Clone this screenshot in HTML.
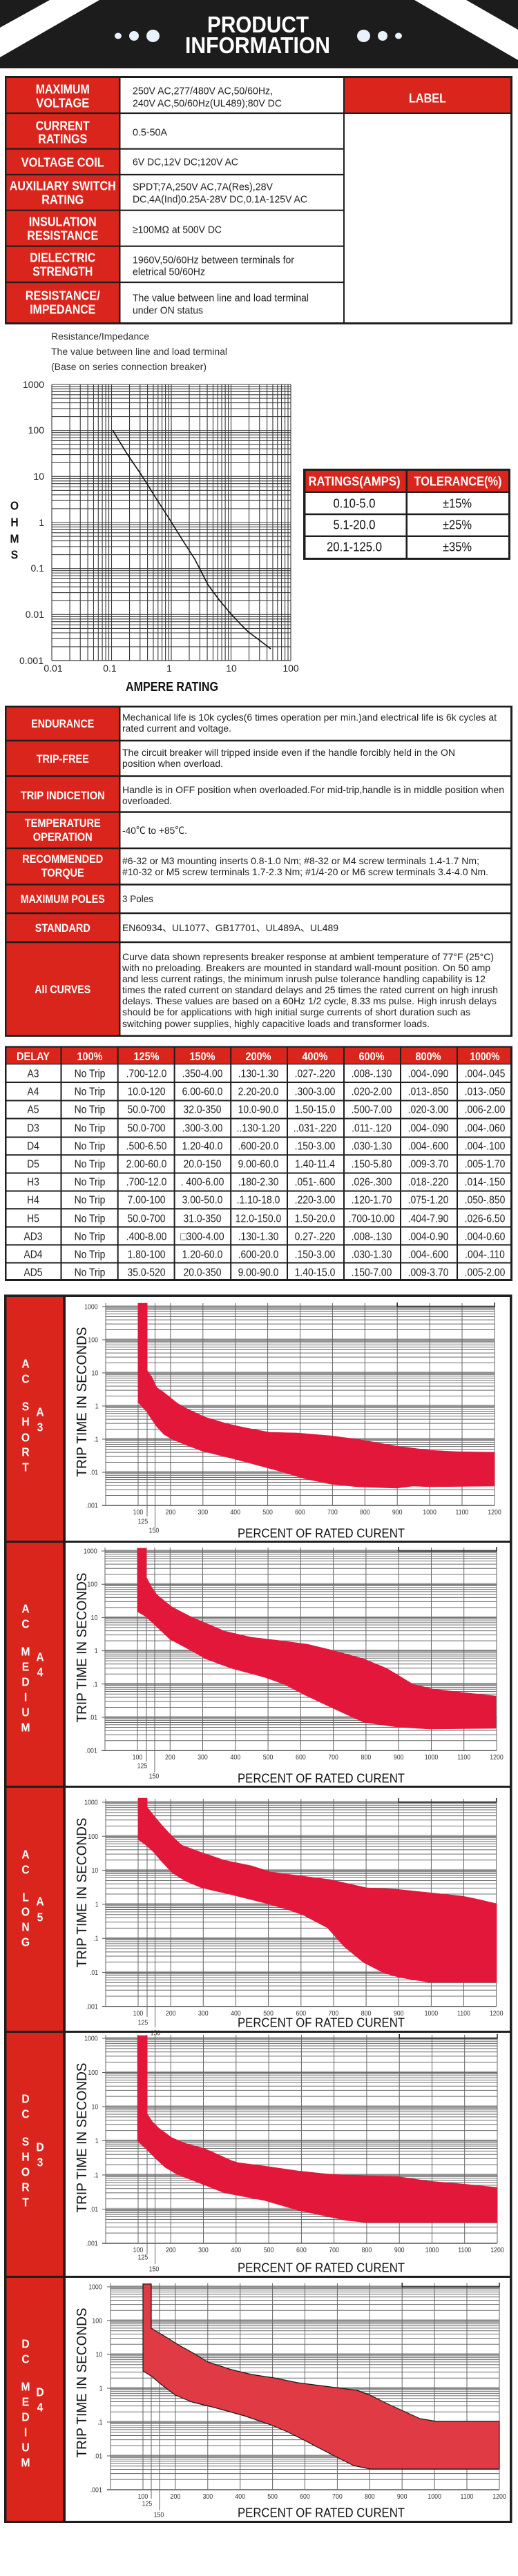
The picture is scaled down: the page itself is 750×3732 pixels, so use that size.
<!DOCTYPE html>
<html><head><meta charset="utf-8"><title>Product Information</title>
<style>
html,body{margin:0;padding:0;background:#fff;}
svg{display:block;}
text{font-family:"Liberation Sans","Noto Sans CJK SC",sans-serif;}
.c{transform-box:fill-box;transform-origin:center;transform:scaleX(.87);}
.t{transform-box:fill-box;transform-origin:center;transform:scaleX(.88);font-size:10px;fill:#333;}
.L{font-weight:bold;font-size:18px;fill:#fff;}
.W{font-weight:bold;font-size:18px;fill:#fff;}
</style></head>
<body>
<svg width="750" height="3732" viewBox="0 0 750 3732" xmlns="http://www.w3.org/2000/svg">
<defs>
<g id="hd">
<path d="M0 0H1" stroke="#b0b0b0" stroke-width="3.5" fill="none" vector-effect="non-scaling-stroke"/>
<path d="M0 0H1M0 .046H1M0 .097H1M0 .155H1M0 .222H1M0 .301H1M0 .398H1M0 .523H1M0 .699H1" stroke="#6a6a6a" stroke-width="1" fill="none" vector-effect="non-scaling-stroke"/>
</g>
<g id="rh">
<path d="M0 0H1M0 .046H1M0 .097H1M0 .155H1M0 .222H1M0 .301H1M0 .398H1M0 .523H1M0 .699H1" stroke="#3a3a3a" stroke-width="1.1" fill="none" vector-effect="non-scaling-stroke"/>
</g>
<g id="rv">
<path d="M0 0V1M.301 0V1M.477 0V1M.602 0V1M.699 0V1M.778 0V1M.845 0V1M.903 0V1M.954 0V1" stroke="#3a3a3a" stroke-width="1.1" fill="none" vector-effect="non-scaling-stroke"/>
</g>
</defs>

<rect width="750" height="3732" fill="#fff"/>

<!-- HEADER -->
<rect x="0" y="0" width="750" height="99" fill="#1c1c1c"/>
<polygon points="72,0 144,0 0,83 0,40" fill="#fff"/>
<polygon points="600,0 675,0 750,43 750,87" fill="#fff"/>
<ellipse cx="171" cy="52" rx="5" ry="4.5" fill="#e8f1fc"/>
<ellipse cx="194" cy="52" rx="7" ry="7" fill="#e8f1fc"/>
<ellipse cx="221.5" cy="52" rx="9.5" ry="9" fill="#e8f1fc"/>
<ellipse cx="526.5" cy="52" rx="9.5" ry="9" fill="#e8f1fc"/>
<ellipse cx="554" cy="52" rx="7" ry="7" fill="#e8f1fc"/>
<ellipse cx="577" cy="52" rx="5" ry="4.5" fill="#e8f1fc"/>
<text x="373.5" y="47" text-anchor="middle" font-weight="bold" font-size="33" fill="#fff" textLength="147" lengthAdjust="spacingAndGlyphs">PRODUCT</text>
<text x="373" y="77" text-anchor="middle" font-weight="bold" font-size="33" fill="#fff" textLength="210" lengthAdjust="spacingAndGlyphs">INFORMATION</text>

<!-- TABLE 1 -->
<rect x="7" y="110" width="735" height="360" fill="#1e1e1e"/>
<rect x="9.5" y="113" width="162.5" height="354" fill="#d9251c"/>
<rect x="174.5" y="113" width="322.5" height="354" fill="#fff"/>
<rect x="499" y="113" width="240" height="50" fill="#d9251c"/>
<rect x="499" y="165" width="240" height="302" fill="#fff"/>
<path d="M9.5 164H497M9.5 215.7H497M9.5 253H497M9.5 304.7H497M9.5 356.7H497M9.5 409H497" stroke="#1e1e1e" stroke-width="2.2"/>
<g class="L" text-anchor="middle">
<text x="90.75" y="135.5" textLength="78" lengthAdjust="spacingAndGlyphs">MAXIMUM</text>
<text x="90.75" y="155.5" textLength="77" lengthAdjust="spacingAndGlyphs">VOLTAGE</text>
<text x="90.75" y="188.5" textLength="78" lengthAdjust="spacingAndGlyphs">CURRENT</text>
<text x="90.75" y="207.5" textLength="71" lengthAdjust="spacingAndGlyphs">RATINGS</text>
<text x="90.75" y="241.5" textLength="120" lengthAdjust="spacingAndGlyphs">VOLTAGE COIL</text>
<text x="90.75" y="275.5" textLength="154" lengthAdjust="spacingAndGlyphs">AUXILIARY SWITCH</text>
<text x="90.75" y="295.5" textLength="61" lengthAdjust="spacingAndGlyphs">RATING</text>
<text x="90.75" y="327.5" textLength="98" lengthAdjust="spacingAndGlyphs">INSULATION</text>
<text x="90.75" y="347.5" textLength="103" lengthAdjust="spacingAndGlyphs">RESISTANCE</text>
<text x="90.75" y="379.5" textLength="95" lengthAdjust="spacingAndGlyphs">DIELECTRIC</text>
<text x="90.75" y="399.5" textLength="87" lengthAdjust="spacingAndGlyphs">STRENGTH</text>
<text x="90.75" y="434.5" textLength="108" lengthAdjust="spacingAndGlyphs">RESISTANCE/</text>
<text x="90.75" y="454.5" textLength="95" lengthAdjust="spacingAndGlyphs">IMPEDANCE</text>
<text x="619" y="148.5" textLength="54" lengthAdjust="spacingAndGlyphs">LABEL</text>
</g>
<g font-size="15" fill="#222">
<text x="192" y="136.4" textLength="203" lengthAdjust="spacingAndGlyphs">250V AC,277/480V AC,50/60Hz,</text>
<text x="192" y="154.4" textLength="216" lengthAdjust="spacingAndGlyphs">240V AC,50/60Hz(UL489);80V DC</text>
<text x="192" y="196.4" textLength="50" lengthAdjust="spacingAndGlyphs">0.5-50A</text>
<text x="192" y="239.4" textLength="153" lengthAdjust="spacingAndGlyphs">6V DC,12V DC;120V AC</text>
<text x="192" y="275.4" textLength="203" lengthAdjust="spacingAndGlyphs">SPDT;7A,250V AC,7A(Res),28V</text>
<text x="192" y="293.4" textLength="253" lengthAdjust="spacingAndGlyphs">DC,4A(Ind)0.25A-28V DC,0.1A-125V AC</text>
<text x="192" y="337.4" textLength="129" lengthAdjust="spacingAndGlyphs">≥100MΩ at 500V DC</text>
<text x="192" y="381.4" textLength="234" lengthAdjust="spacingAndGlyphs">1960V,50/60Hz between terminals for</text>
<text x="192" y="398.4" textLength="105" lengthAdjust="spacingAndGlyphs">eletrical 50/60Hz</text>
<text x="192" y="436.4" textLength="255" lengthAdjust="spacingAndGlyphs">The value between line and load terminal</text>
<text x="192" y="454.4" textLength="102" lengthAdjust="spacingAndGlyphs">under ON status</text>
</g>

<!-- RESISTANCE CHART -->
<g font-size="14" fill="#333">
<text x="74" y="492" textLength="142" lengthAdjust="spacingAndGlyphs">Resistance/Impedance</text>
<text x="74" y="514" textLength="255" lengthAdjust="spacingAndGlyphs">The value between line and load terminal</text>
<text x="74" y="536" textLength="225" lengthAdjust="spacingAndGlyphs">(Base on series connection breaker)</text>
</g>
<use href="#rh" transform="translate(75 557) scale(346 66.667)"/>
<use href="#rh" transform="translate(75 623.667) scale(346 66.667)"/>
<use href="#rh" transform="translate(75 690.333) scale(346 66.667)"/>
<use href="#rh" transform="translate(75 757) scale(346 66.667)"/>
<use href="#rh" transform="translate(75 823.667) scale(346 66.667)"/>
<use href="#rh" transform="translate(75 890.333) scale(346 66.667)"/>
<path d="M75 957H421" stroke="#3a3a3a" stroke-width="1.3"/>
<use href="#rv" transform="translate(75 557) scale(86.5 400)"/>
<use href="#rv" transform="translate(161.5 557) scale(86.5 400)"/>
<use href="#rv" transform="translate(248 557) scale(86.5 400)"/>
<use href="#rv" transform="translate(334.5 557) scale(86.5 400)"/>
<path d="M421 557V957" stroke="#3a3a3a" stroke-width="1.1"/>
<polyline points="163,623 183,656 206,690 226,722 246,753 264,782 282,810 301,847 318,870 335,890 348,904 359,915 375,927 392,940" fill="none" stroke="#111" stroke-width="1.6" stroke-linejoin="round"/>
<g font-size="14" fill="#222" text-anchor="end">
<text x="64" y="562">1000</text>
<text x="64" y="628">100</text>
<text x="64" y="695">10</text>
<text x="64" y="762">1</text>
<text x="64" y="828">0.1</text>
<text x="64" y="895">0.01</text>
<text x="63" y="962">0.001</text>
</g>
<g font-size="14" fill="#222" text-anchor="middle">
<text x="77" y="973">0.01</text>
<text x="159" y="973">0.1</text>
<text x="245" y="973">1</text>
<text x="335" y="973">10</text>
<text x="421" y="973">100</text>
</g>
<g font-weight="bold" font-size="18" fill="#111" text-anchor="middle">
<text class="c" x="21" y="738.5">O</text>
<text class="c" x="21" y="762.5">H</text>
<text class="c" x="21" y="786.5">M</text>
<text class="c" x="21" y="809.5">S</text>
</g>
<text x="182" y="1001" font-weight="bold" font-size="18" fill="#111" textLength="134" lengthAdjust="spacingAndGlyphs">AMPERE RATING</text>

<!-- RATINGS TABLE -->
<rect x="439" y="679" width="300" height="132" fill="#1e1e1e"/>
<rect x="442.5" y="682" width="293.5" height="30" fill="#d9251c"/>
<rect x="442.5" y="714" width="293.5" height="94" fill="#fff"/>
<path d="M588.75 682V808" stroke="#1e1e1e" stroke-width="2.6"/>
<path d="M442.5 745H736M442.5 776.8H736" stroke="#1e1e1e" stroke-width="2.4"/>
<g class="W" text-anchor="middle">
<text x="513" y="703.5" textLength="133" lengthAdjust="spacingAndGlyphs">RATINGS(AMPS)</text>
<text x="663" y="703.5" textLength="127" lengthAdjust="spacingAndGlyphs">TOLERANCE(%)</text>
</g>
<g font-size="18" fill="#111" text-anchor="middle">
<text x="513" y="735.5" textLength="61" lengthAdjust="spacingAndGlyphs">0.10-5.0</text>
<text x="513" y="766.5" textLength="61" lengthAdjust="spacingAndGlyphs">5.1-20.0</text>
<text x="513" y="798.5" textLength="80" lengthAdjust="spacingAndGlyphs">20.1-125.0</text>
<text x="662" y="735.5" textLength="42" lengthAdjust="spacingAndGlyphs">±15%</text>
<text x="662" y="766.5" textLength="42" lengthAdjust="spacingAndGlyphs">±25%</text>
<text x="662" y="798.5" textLength="42" lengthAdjust="spacingAndGlyphs">±35%</text>
</g>

<!-- TABLE 2 -->
<rect x="7" y="1022.5" width="735" height="479.5" fill="#1e1e1e"/>
<rect x="9.5" y="1025" width="162.5" height="474.5" fill="#d9251c"/>
<rect x="174.5" y="1025" width="564.5" height="474.5" fill="#fff"/>
<path d="M9.5 1073H739M9.5 1124.5H739M9.5 1176.5H739M9.5 1229H739M9.5 1281.5H739M9.5 1323H739M9.5 1365H739" stroke="#1e1e1e" stroke-width="2.4"/>
<g font-weight="bold" font-size="17" fill="#fff" text-anchor="middle">
<text x="90.75" y="1054" textLength="91" lengthAdjust="spacingAndGlyphs">ENDURANCE</text>
<text x="90.75" y="1105" textLength="76" lengthAdjust="spacingAndGlyphs">TRIP-FREE</text>
<text x="90.75" y="1158" textLength="122" lengthAdjust="spacingAndGlyphs">TRIP INDICETION</text>
<text x="90.75" y="1198" textLength="110" lengthAdjust="spacingAndGlyphs">TEMPERATURE</text>
<text x="90.75" y="1218" textLength="86" lengthAdjust="spacingAndGlyphs">OPERATION</text>
<text x="90.75" y="1250" textLength="117" lengthAdjust="spacingAndGlyphs">RECOMMENDED</text>
<text x="90.75" y="1270" textLength="62" lengthAdjust="spacingAndGlyphs">TORQUE</text>
<text x="90.75" y="1308" textLength="122" lengthAdjust="spacingAndGlyphs">MAXIMUM POLES</text>
<text x="90.75" y="1350" textLength="80" lengthAdjust="spacingAndGlyphs">STANDARD</text>
<text x="90.75" y="1439" textLength="81" lengthAdjust="spacingAndGlyphs">All CURVES</text>
</g>
<g font-size="14" fill="#222">
<text x="177" y="1044" textLength="542" lengthAdjust="spacingAndGlyphs">Mechanical life is 10k cycles(6 times operation per min.)and electrical life is 6k cycles at</text>
<text x="177" y="1060" textLength="158" lengthAdjust="spacingAndGlyphs">rated current and voltage.</text>
<text x="177" y="1095" textLength="482" lengthAdjust="spacingAndGlyphs">The circuit breaker will tripped inside even if the handle forcibly held in the ON</text>
<text x="177" y="1111" textLength="146" lengthAdjust="spacingAndGlyphs">position when overload.</text>
<text x="177" y="1149" textLength="553" lengthAdjust="spacingAndGlyphs">Handle is in OFF position when overloaded.For mid-trip,handle is in middle position when</text>
<text x="177" y="1165" textLength="72" lengthAdjust="spacingAndGlyphs">overloaded.</text>
<text x="177" y="1208" textLength="94" lengthAdjust="spacingAndGlyphs">-40℃ to +85℃.</text>
<text x="177" y="1252" textLength="517" lengthAdjust="spacingAndGlyphs">#6-32 or M3 mounting inserts 0.8-1.0 Nm; #8-32 or M4 screw terminals 1.4-1.7 Nm;</text>
<text x="177" y="1268" textLength="530" lengthAdjust="spacingAndGlyphs">#10-32 or M5 screw terminals 1.7-2.3 Nm; #1/4-20 or M6 screw terminals 3.4-4.0 Nm.</text>
<text x="177" y="1307" textLength="45" lengthAdjust="spacingAndGlyphs">3 Poles</text>
<text x="177" y="1349" textLength="313" lengthAdjust="spacingAndGlyphs">EN60934、UL1077、GB17701、UL489A、UL489</text>
<text x="177" y="1391" textLength="538" lengthAdjust="spacingAndGlyphs">Curve data shown represents breaker response at ambient temperature of 77°F (25°C)</text>
<text x="177" y="1407" textLength="533" lengthAdjust="spacingAndGlyphs">with no preloading. Breakers are mounted in standard wall-mount position. On 50 amp</text>
<text x="177" y="1423" textLength="526" lengthAdjust="spacingAndGlyphs">and less current ratings, the minimum inrush pulse tolerance handling capability is 12</text>
<text x="177" y="1439" textLength="544" lengthAdjust="spacingAndGlyphs">times the rated current on standard delays and 25 times the rated current on high inrush</text>
<text x="177" y="1455" textLength="542" lengthAdjust="spacingAndGlyphs">delays. These values are based on a 60Hz 1/2 cycle, 8.33 ms pulse. High inrush delays</text>
<text x="177" y="1471" textLength="504" lengthAdjust="spacingAndGlyphs">should be for applications with high initial surge currents of short duration such as</text>
<text x="177" y="1488" textLength="445" lengthAdjust="spacingAndGlyphs">switching power supplies, highly capacitive loads and transformer loads.</text>
</g>

<!-- DELAY TABLE -->
<rect x="7" y="1515.5" width="735" height="340.5" fill="#1e1e1e"/>
<rect x="9.5" y="1517.7" width="729.5" height="23.3" fill="#d9251c"/>
<rect x="9.5" y="1542.3" width="729.5" height="310.7" fill="#fff"/>
<path d="M88.5 1517V1854M170.7 1517V1854M252.6 1517V1854M334.2 1517V1854M416 1517V1854M498 1517V1854M580 1517V1854M662 1517V1854" stroke="#1e1e1e" stroke-width="2"/>
<path d="M9.5 1568H739M9.5 1594.5H739M9.5 1620.5H739M9.5 1647.5H739M9.5 1673.3H739M9.5 1699.5H739M9.5 1725.5H739M9.5 1751.3H739M9.5 1777.5H739M9.5 1803.5H739M9.5 1829.5H739" stroke="#1e1e1e" stroke-width="2"/>
<g font-weight="bold" font-size="17" fill="#fff" text-anchor="middle">
<text x="48" y="1536" textLength="48" lengthAdjust="spacingAndGlyphs">DELAY</text>
<text x="130" y="1536" textLength="37" lengthAdjust="spacingAndGlyphs">100%</text>
<text x="212" y="1536" textLength="37" lengthAdjust="spacingAndGlyphs">125%</text>
<text x="293" y="1536" textLength="37" lengthAdjust="spacingAndGlyphs">150%</text>
<text x="374" y="1536" textLength="37" lengthAdjust="spacingAndGlyphs">200%</text>
<text x="456" y="1536" textLength="37" lengthAdjust="spacingAndGlyphs">400%</text>
<text x="538" y="1536" textLength="37" lengthAdjust="spacingAndGlyphs">600%</text>
<text x="620" y="1536" textLength="37" lengthAdjust="spacingAndGlyphs">800%</text>
<text x="702" y="1536" textLength="43" lengthAdjust="spacingAndGlyphs">1000%</text>
</g>
<g font-size="16" fill="#222" text-anchor="middle">
<g transform="translate(0 1560.7)"><text class="c" x="48">A3</text><text class="c" x="130">No Trip</text><text class="c" x="212">.700-12.0</text><text class="c" x="293">.350-4.00</text><text class="c" x="374">.130-1.30</text><text class="c" x="456">.027-.220</text><text class="c" x="538">.008-.130</text><text class="c" x="620">.004-.090</text><text class="c" x="702">.004-.045</text></g>
<g transform="translate(0 1586.7)"><text class="c" x="48">A4</text><text class="c" x="130">No Trip</text><text class="c" x="212">10.0-120</text><text class="c" x="293">6.00-60.0</text><text class="c" x="374">2.20-20.0</text><text class="c" x="456">.300-3.00</text><text class="c" x="538">.020-2.00</text><text class="c" x="620">.013-.850</text><text class="c" x="702">.013-.050</text></g>
<g transform="translate(0 1612.7)"><text class="c" x="48">A5</text><text class="c" x="130">No Trip</text><text class="c" x="212">50.0-700</text><text class="c" x="293">32.0-350</text><text class="c" x="374">10.0-90.0</text><text class="c" x="456">1.50-15.0</text><text class="c" x="538">.500-7.00</text><text class="c" x="620">.020-3.00</text><text class="c" x="702">.006-2.00</text></g>
<g transform="translate(0 1639.7)"><text class="c" x="48">D3</text><text class="c" x="130">No Trip</text><text class="c" x="212">50.0-700</text><text class="c" x="293">.300-3.00</text><text class="c" x="374">..130-1.20</text><text class="c" x="456">..031-.220</text><text class="c" x="538">.011-.120</text><text class="c" x="620">.004-.090</text><text class="c" x="702">.004-.060</text></g>
<g transform="translate(0 1665.7)"><text class="c" x="48">D4</text><text class="c" x="130">No Trip</text><text class="c" x="212">.500-6.50</text><text class="c" x="293">1.20-40.0</text><text class="c" x="374">.600-20.0</text><text class="c" x="456">.150-3.00</text><text class="c" x="538">.030-1.30</text><text class="c" x="620">.004-.600</text><text class="c" x="702">.004-.100</text></g>
<g transform="translate(0 1691.7)"><text class="c" x="48">D5</text><text class="c" x="130">No Trip</text><text class="c" x="212">2.00-60.0</text><text class="c" x="293">20.0-150</text><text class="c" x="374">9.00-60.0</text><text class="c" x="456">1.40-11.4</text><text class="c" x="538">.150-5.80</text><text class="c" x="620">.009-3.70</text><text class="c" x="702">.005-1.70</text></g>
<g transform="translate(0 1717.7)"><text class="c" x="48">H3</text><text class="c" x="130">No Trip</text><text class="c" x="212">.700-12.0</text><text class="c" x="293">. 400-6.00</text><text class="c" x="374">.180-2.30</text><text class="c" x="456">.051-.600</text><text class="c" x="538">.026-.300</text><text class="c" x="620">.018-.220</text><text class="c" x="702">.014-.150</text></g>
<g transform="translate(0 1743.7)"><text class="c" x="48">H4</text><text class="c" x="130">No Trip</text><text class="c" x="212">7.00-100</text><text class="c" x="293">3.00-50.0</text><text class="c" x="374">.1.10-18.0</text><text class="c" x="456">.220-3.00</text><text class="c" x="538">.120-1.70</text><text class="c" x="620">.075-1.20</text><text class="c" x="702">.050-.850</text></g>
<g transform="translate(0 1770.7)"><text class="c" x="48">H5</text><text class="c" x="130">No Trip</text><text class="c" x="212">50.0-700</text><text class="c" x="293">31.0-350</text><text class="c" x="374">12.0-150.0</text><text class="c" x="456">1.50-20.0</text><text class="c" x="538">.700-10.00</text><text class="c" x="620">.404-7.90</text><text class="c" x="702">.026-6.50</text></g>
<g transform="translate(0 1796.7)"><text class="c" x="48">AD3</text><text class="c" x="130">No Trip</text><text class="c" x="212">.400-8.00</text><text class="c" x="293">□300-4.00</text><text class="c" x="374">.130-1.30</text><text class="c" x="456">0.27-.220</text><text class="c" x="538">.008-.130</text><text class="c" x="620">.004-0.90</text><text class="c" x="702">.004-0.60</text></g>
<g transform="translate(0 1822.7)"><text class="c" x="48">AD4</text><text class="c" x="130">No Trip</text><text class="c" x="212">1.80-100</text><text class="c" x="293">1.20-60.0</text><text class="c" x="374">.600-20.0</text><text class="c" x="456">.150-3.00</text><text class="c" x="538">.030-1.30</text><text class="c" x="620">.004-.600</text><text class="c" x="702">.004-.110</text></g>
<g transform="translate(0 1848.7)"><text class="c" x="48">AD5</text><text class="c" x="130">No Trip</text><text class="c" x="212">35.0-520</text><text class="c" x="293">20.0-350</text><text class="c" x="374">9.00-90.0</text><text class="c" x="456">1.40-15.0</text><text class="c" x="538">.150-7.00</text><text class="c" x="620">.009-3.70</text><text class="c" x="702">.005-2.00</text></g>
</g>

<!-- CHARTS TABLE -->
<rect x="6" y="1875.5" width="735.5" height="1779.5" fill="#1e1e1e"/>
<rect x="9.5" y="1879" width="81.5" height="353" fill="#d9251c"/>
<rect x="95" y="1879" width="643" height="353" fill="#fff"/>
<rect x="9.5" y="2235" width="81.5" height="352" fill="#d9251c"/>
<rect x="95" y="2235" width="643" height="352" fill="#fff"/>
<rect x="9.5" y="2590" width="81.5" height="352" fill="#d9251c"/>
<rect x="95" y="2590" width="643" height="352" fill="#fff"/>
<rect x="9.5" y="2945" width="81.5" height="352" fill="#d9251c"/>
<rect x="95" y="2945" width="643" height="352" fill="#fff"/>
<rect x="9.5" y="3300" width="81.5" height="352" fill="#d9251c"/>
<rect x="95" y="3300" width="643" height="352" fill="#fff"/>

<!-- side labels -->
<g class="L" text-anchor="middle">
<text class="c" x="37" y="1981.5">A</text><text class="c" x="37" y="2003.5">C</text>
<text class="c" x="37" y="2043.5">S</text><text class="c" x="37" y="2065.5">H</text><text class="c" x="37" y="2088.5">O</text><text class="c" x="37" y="2109.5">R</text><text class="c" x="37" y="2131.5">T</text>
<text class="c" x="58" y="2051.5">A</text><text class="c" x="58" y="2073.5">3</text>

<text class="c" x="37" y="2336.5">A</text><text class="c" x="37" y="2358.5">C</text>
<text class="c" x="37" y="2398.5">M</text><text class="c" x="37" y="2420.5">E</text><text class="c" x="37" y="2442.5">D</text><text class="c" x="37" y="2464.5">I</text><text class="c" x="37" y="2486.5">U</text><text class="c" x="37" y="2508.5">M</text>
<text class="c" x="58" y="2406.5">A</text><text class="c" x="58" y="2428.5">4</text>

<text class="c" x="37" y="2692.5">A</text><text class="c" x="37" y="2714.5">C</text>
<text class="c" x="37" y="2754.5">L</text><text class="c" x="37" y="2775.5">O</text><text class="c" x="37" y="2797.5">N</text><text class="c" x="37" y="2819.5">G</text>
<text class="c" x="58" y="2760.5">A</text><text class="c" x="58" y="2783.5">5</text>

<text class="c" x="37" y="3046.5">D</text><text class="c" x="37" y="3068.5">C</text>
<text class="c" x="37" y="3108.5">S</text><text class="c" x="37" y="3130.5">H</text><text class="c" x="37" y="3152.5">O</text><text class="c" x="37" y="3174.5">R</text><text class="c" x="37" y="3196.5">T</text>
<text class="c" x="58" y="3116.5">D</text><text class="c" x="58" y="3138.5">3</text>

<text class="c" x="37" y="3401.5">D</text><text class="c" x="37" y="3423.5">C</text>
<text class="c" x="37" y="3463.5">M</text><text class="c" x="37" y="3485.5">E</text><text class="c" x="37" y="3507.5">D</text><text class="c" x="37" y="3529.5">I</text><text class="c" x="37" y="3551.5">U</text><text class="c" x="37" y="3573.5">M</text>
<text class="c" x="58" y="3471.5">D</text><text class="c" x="58" y="3493.5">4</text>
</g>

<!-- ===== CHART 1 (A3) ===== -->
<use href="#hd" transform="translate(153 1893) scale(563 48)"/>
<use href="#hd" transform="translate(153 1941) scale(563 48)"/>
<use href="#hd" transform="translate(153 1989) scale(563 48)"/>
<use href="#hd" transform="translate(153 2037) scale(563 48)"/>
<use href="#hd" transform="translate(153 2085) scale(563 48)"/>
<use href="#hd" transform="translate(153 2133) scale(563 48)"/>
<path d="M148 2181H716" stroke="#555" stroke-width="1.5"/>
<path d="M148 1893H153M148 1941H153M148 1989H153M148 2037H153M148 2085H153M148 2133H153" stroke="#555" stroke-width="1"/>
<path d="M153 1888V2181M200 1888V2181M213 1888V2197M224.5 1888V2213M246.9 1888V2181M293.8 1888V2181M340.7 1888V2181M387.6 1888V2181M434.5 1888V2181M481.4 1888V2181M528.3 1888V2181M575.2 1888V2181M622.1 1888V2181M669 1888V2181M716 1888V2181" stroke="#666" stroke-width="1"/>
<polygon fill="#e3173a" stroke="#e3173a" stroke-width=".5" stroke-linejoin="round" points="200,1888 213,1888 213,1985 220,1995 227,2010 237,2017 247,2025 257,2033 273,2042 297,2053 327,2062 353,2068 390,2075 431,2076 478,2080 517,2085 574,2095 622,2101 660,2103 716,2104 716,2153 622,2154 598,2153 574,2156 517,2154 478,2150 440,2142 407,2132 344,2115 292,2102 268,2093 249,2085 237,2078 227,2067 220,2057 212,2045 200,2032"/>
<path d="M575.2 1887V1893H716V1887" fill="none" stroke="#222" stroke-width="1.5"/>
<g text-anchor="end"><text class="t" x="143" y="1896.5">1000</text><text class="t" x="143" y="1944.5">100</text><text class="t" x="143" y="1992.5">10</text><text class="t" x="143" y="2040.5">1</text><text class="t" x="143" y="2088.5">.1</text><text class="t" x="143" y="2136.5">.01</text><text class="t" x="143" y="2184.5">.001</text></g>
<g text-anchor="middle"><text class="t" x="200" y="2194">100</text><text class="t" x="246.9" y="2194">200</text><text class="t" x="293.8" y="2194">300</text><text class="t" x="340.7" y="2194">400</text><text class="t" x="387.6" y="2194">500</text><text class="t" x="434.5" y="2194">600</text><text class="t" x="481.4" y="2194">700</text><text class="t" x="528.3" y="2194">800</text><text class="t" x="575.2" y="2194">900</text><text class="t" x="622.1" y="2194">1000</text><text class="t" x="669" y="2194">1100</text><text class="t" x="716" y="2194">1200</text><text class="t" x="207" y="2207.5">125</text><text class="t" x="223" y="2220.5">150</text></g>
<text x="465" y="2227.5" text-anchor="middle" font-size="18" fill="#111" textLength="242" lengthAdjust="spacingAndGlyphs">PERCENT OF RATED CURENT</text>
<text x="125" y="2031" transform="rotate(-90 125 2031)" text-anchor="middle" font-size="20" fill="#111" textLength="217" lengthAdjust="spacingAndGlyphs">TRIP TIME IN SECONDS</text>

<!-- ===== CHART 2 (A4) ===== -->
<use href="#hd" transform="translate(152 2247) scale(567 48.2)"/>
<use href="#hd" transform="translate(152 2295.2) scale(567 48.2)"/>
<use href="#hd" transform="translate(152 2343.4) scale(567 48.2)"/>
<use href="#hd" transform="translate(152 2391.6) scale(567 48.2)"/>
<use href="#hd" transform="translate(152 2439.8) scale(567 48.2)"/>
<use href="#hd" transform="translate(152 2488) scale(567 48.2)"/>
<path d="M147 2536.2H719" stroke="#555" stroke-width="1.5"/>
<path d="M147 2247H152M147 2295.2H152M147 2343.4H152M147 2391.6H152M147 2439.8H152M147 2488H152" stroke="#555" stroke-width="1"/>
<path d="M152 2242V2536M199 2242V2536M212 2242V2552M224 2242V2568M246.3 2242V2536M293.5 2242V2536M340.8 2242V2536M388.1 2242V2536M435.4 2242V2536M482.6 2242V2536M529.9 2242V2536M577.2 2242V2536M624.5 2242V2536M671.7 2242V2536M719 2242V2536" stroke="#666" stroke-width="1"/>
<polygon fill="#e3173a" stroke="#e3173a" stroke-width=".5" stroke-linejoin="round" points="199,2243 212,2243 212,2285 220,2300 227,2310 249,2328 278,2343 325,2363 364,2372 407,2377 445,2382 478,2390 526,2403 560,2417 598,2440 627,2447 670,2452 718,2457 718,2504 622,2505 574,2502 526,2495 478,2473 440,2455 411,2440 383,2430 335,2417 297,2403 278,2392 246,2375 225,2355 211,2342 199,2335"/>
<path d="M577.2 2241V2247H719V2241" fill="none" stroke="#222" stroke-width="1.5"/>
<g text-anchor="end"><text class="t" x="142" y="2250.5">1000</text><text class="t" x="142" y="2298.7">100</text><text class="t" x="142" y="2346.9">10</text><text class="t" x="142" y="2395.1">1</text><text class="t" x="142" y="2443.3">.1</text><text class="t" x="142" y="2491.5">.01</text><text class="t" x="142" y="2539.7">.001</text></g>
<g text-anchor="middle"><text class="t" x="199" y="2549">100</text><text class="t" x="246.3" y="2549">200</text><text class="t" x="293.5" y="2549">300</text><text class="t" x="340.8" y="2549">400</text><text class="t" x="388.1" y="2549">500</text><text class="t" x="435.4" y="2549">600</text><text class="t" x="482.6" y="2549">700</text><text class="t" x="529.9" y="2549">800</text><text class="t" x="577.2" y="2549">900</text><text class="t" x="624.5" y="2549">1000</text><text class="t" x="671.7" y="2549">1100</text><text class="t" x="719" y="2549">1200</text><text class="t" x="206" y="2561.5">125</text><text class="t" x="223" y="2576.5">150</text></g>
<text x="465" y="2582.5" text-anchor="middle" font-size="18" fill="#111" textLength="242" lengthAdjust="spacingAndGlyphs">PERCENT OF RATED CURENT</text>
<text x="125" y="2387" transform="rotate(-90 125 2387)" text-anchor="middle" font-size="20" fill="#111" textLength="217" lengthAdjust="spacingAndGlyphs">TRIP TIME IN SECONDS</text>

<!-- ===== CHART 3 (A5) ===== -->
<use href="#hd" transform="translate(153 2611) scale(565.7 49.3)"/>
<use href="#hd" transform="translate(153 2660.3) scale(565.7 49.3)"/>
<use href="#hd" transform="translate(153 2709.6) scale(565.7 49.3)"/>
<use href="#hd" transform="translate(153 2758.9) scale(565.7 49.3)"/>
<use href="#hd" transform="translate(153 2808.2) scale(565.7 49.3)"/>
<use href="#hd" transform="translate(153 2857.5) scale(565.7 49.3)"/>
<path d="M148 2906.8H718.7" stroke="#555" stroke-width="1.5"/>
<path d="M148 2611H153M148 2660.3H153M148 2709.6H153M148 2758.9H153M148 2808.2H153M148 2857.5H153" stroke="#555" stroke-width="1"/>
<path d="M153 2606V2907M200 2606V2907M213 2606V2922M224.5 2606V2937M247.2 2606V2907M294.3 2606V2907M341.5 2606V2907M388.6 2606V2907M435.8 2606V2907M482.9 2606V2907M530.1 2606V2907M577.2 2606V2907M624.4 2606V2907M671.5 2606V2907M718.7 2606V2907" stroke="#666" stroke-width="1"/>
<polygon fill="#e3173a" stroke="#e3173a" stroke-width=".5" stroke-linejoin="round" points="200,2605 213,2605 213,2618 225,2633 237,2647 249,2660 263,2673 287,2682 325,2695 364,2703 392,2712 431,2717 478,2723 531,2735 574,2737 622,2742 670,2747 694,2752 719,2758 719,2872 622,2872 579,2865 555,2858 526,2843 498,2820 474,2793 440,2775 421,2768 383,2757 335,2745 292,2735 268,2725 249,2713 234,2697 222,2683 211,2673 200,2665"/>
<path d="M577.2 2605V2611H718.7V2605" fill="none" stroke="#222" stroke-width="1.5"/>
<g text-anchor="end"><text class="t" x="143" y="2614.5">1000</text><text class="t" x="143" y="2663.8">100</text><text class="t" x="143" y="2713.1">10</text><text class="t" x="143" y="2762.4">1</text><text class="t" x="143" y="2811.7">.1</text><text class="t" x="143" y="2861">.01</text><text class="t" x="143" y="2910.3">.001</text></g>
<g text-anchor="middle"><text class="t" x="200" y="2920">100</text><text class="t" x="247.2" y="2920">200</text><text class="t" x="294.3" y="2920">300</text><text class="t" x="341.5" y="2920">400</text><text class="t" x="388.6" y="2920">500</text><text class="t" x="435.8" y="2920">600</text><text class="t" x="482.9" y="2920">700</text><text class="t" x="530.1" y="2920">800</text><text class="t" x="577.2" y="2920">900</text><text class="t" x="624.4" y="2920">1000</text><text class="t" x="671.5" y="2920">1100</text><text class="t" x="718.7" y="2920">1200</text><text class="t" x="207" y="2933.5">125</text><text class="t" x="225" y="2948.5">150</text></g>
<text x="465" y="2936.5" text-anchor="middle" font-size="18" fill="#111" textLength="242" lengthAdjust="spacingAndGlyphs">PERCENT OF RATED CURENT</text>
<text x="125" y="2742" transform="rotate(-90 125 2742)" text-anchor="middle" font-size="20" fill="#111" textLength="217" lengthAdjust="spacingAndGlyphs">TRIP TIME IN SECONDS</text>

<!-- ===== CHART 4 (D3) ===== -->
<use href="#hd" transform="translate(153 2953) scale(567 49.5)"/>
<use href="#hd" transform="translate(153 3002.5) scale(567 49.5)"/>
<use href="#hd" transform="translate(153 3052) scale(567 49.5)"/>
<use href="#hd" transform="translate(153 3101.5) scale(567 49.5)"/>
<use href="#hd" transform="translate(153 3151) scale(567 49.5)"/>
<use href="#hd" transform="translate(153 3200.5) scale(567 49.5)"/>
<path d="M148 3250H720" stroke="#555" stroke-width="1.5"/>
<path d="M148 2953H153M148 3002.5H153M148 3052H153M148 3101.5H153M148 3151H153M148 3200.5H153" stroke="#555" stroke-width="1"/>
<path d="M153 2948V3250M200 2948V3250M213 2948V3265M224.5 2948V3280M247.3 2948V3250M294.5 2948V3250M341.8 2948V3250M389.1 2948V3250M436.4 2948V3250M483.6 2948V3250M530.9 2948V3250M578.2 2948V3250M625.5 2948V3250M672.7 2948V3250M720 2948V3250" stroke="#666" stroke-width="1"/>
<polygon fill="#e3173a" stroke="#e3173a" stroke-width=".5" stroke-linejoin="round" points="199,2949 213,2949 213,3062 220,3073 230,3083 249,3097 268,3105 297,3113 335,3130 344,3133 383,3138 431,3145 478,3150 526,3152 574,3153 622,3160 670,3164 720,3169 720,3220 531,3220 502,3217 478,3212 455,3207 431,3202 383,3188 325,3177 287,3162 256,3150 239,3140 225,3127 211,3113 199,3102"/>
<path d="M578.2 2947V2953H720V2947" fill="none" stroke="#222" stroke-width="1.5"/>
<g text-anchor="end"><text class="t" x="143" y="2956.5">1000</text><text class="t" x="143" y="3006">100</text><text class="t" x="143" y="3055.5">10</text><text class="t" x="143" y="3105">1</text><text class="t" x="143" y="3154.5">.1</text><text class="t" x="143" y="3204">.01</text><text class="t" x="143" y="3253.5">.001</text></g>
<g text-anchor="middle"><text class="t" x="200" y="3263">100</text><text class="t" x="247.3" y="3263">200</text><text class="t" x="294.5" y="3263">300</text><text class="t" x="341.8" y="3263">400</text><text class="t" x="389.1" y="3263">500</text><text class="t" x="436.4" y="3263">600</text><text class="t" x="483.6" y="3263">700</text><text class="t" x="530.9" y="3263">800</text><text class="t" x="578.2" y="3263">900</text><text class="t" x="625.5" y="3263">1000</text><text class="t" x="672.7" y="3263">1100</text><text class="t" x="720" y="3263">1200</text><text class="t" x="207" y="3273.5">125</text><text class="t" x="223" y="3290.5">150</text></g>
<text x="465" y="3291.5" text-anchor="middle" font-size="18" fill="#111" textLength="242" lengthAdjust="spacingAndGlyphs">PERCENT OF RATED CURENT</text>
<text x="125" y="3097" transform="rotate(-90 125 3097)" text-anchor="middle" font-size="20" fill="#111" textLength="217" lengthAdjust="spacingAndGlyphs">TRIP TIME IN SECONDS</text>

<!-- ===== CHART 5 (D4) ===== -->
<use href="#hd" transform="translate(160 3313) scale(563 49)"/>
<use href="#hd" transform="translate(160 3362) scale(563 49)"/>
<use href="#hd" transform="translate(160 3411) scale(563 49)"/>
<use href="#hd" transform="translate(160 3460) scale(563 49)"/>
<use href="#hd" transform="translate(160 3509) scale(563 49)"/>
<use href="#hd" transform="translate(160 3558) scale(563 49)"/>
<path d="M155 3607H723" stroke="#555" stroke-width="1.5"/>
<path d="M155 3313H160M155 3362H160M155 3411H160M155 3460H160M155 3509H160M155 3558H160" stroke="#555" stroke-width="1"/>
<path d="M160 3308V3607M207 3308V3607M219 3308V3620M231 3308V3637M253.9 3308V3607M300.8 3308V3607M347.7 3308V3607M394.6 3308V3607M441.5 3308V3607M488.4 3308V3607M535.3 3308V3607M582.2 3308V3607M629.1 3308V3607M676 3308V3607M723 3308V3607" stroke="#666" stroke-width="1"/>
<polygon fill="#e03a45" stroke="#1a1a1a" stroke-width="1.2" stroke-linejoin="round" points="207,3309 219,3309 219,3373 239,3385 258,3397 278,3408 301,3422 335,3433 364,3440 397,3445 431,3452 478,3458 517,3463 536,3470 560,3482 584,3493 608,3504 632,3508 723,3508 723,3577 536,3577 512,3572 488,3560 459,3545 440,3535 416,3523 392,3513 354,3500 311,3488 278,3480 254,3470 234,3455 220,3443 207,3435"/>
<path d="M582.2 3307V3313H723V3307" fill="none" stroke="#222" stroke-width="1.5"/>
<g text-anchor="end"><text class="t" x="149" y="3316.5">1000</text><text class="t" x="149" y="3365.5">100</text><text class="t" x="149" y="3414.5">10</text><text class="t" x="149" y="3463.5">1</text><text class="t" x="149" y="3512.5">.1</text><text class="t" x="149" y="3561.5">.01</text><text class="t" x="149" y="3610.5">.001</text></g>
<g text-anchor="middle"><text class="t" x="207" y="3620">100</text><text class="t" x="253.9" y="3620">200</text><text class="t" x="300.8" y="3620">300</text><text class="t" x="347.7" y="3620">400</text><text class="t" x="394.6" y="3620">500</text><text class="t" x="441.5" y="3620">600</text><text class="t" x="488.4" y="3620">700</text><text class="t" x="535.3" y="3620">800</text><text class="t" x="582.2" y="3620">900</text><text class="t" x="629.1" y="3620">1000</text><text class="t" x="676" y="3620">1100</text><text class="t" x="723" y="3620">1200</text><text class="t" x="213" y="3630.5">125</text><text class="t" x="230" y="3646.5">150</text></g>
<text x="465" y="3646.5" text-anchor="middle" font-size="18" fill="#111" textLength="242" lengthAdjust="spacingAndGlyphs">PERCENT OF RATED CURENT</text>
<text x="125" y="3452" transform="rotate(-90 125 3452)" text-anchor="middle" font-size="20" fill="#111" textLength="217" lengthAdjust="spacingAndGlyphs">TRIP TIME IN SECONDS</text>
</svg>
</body></html>
